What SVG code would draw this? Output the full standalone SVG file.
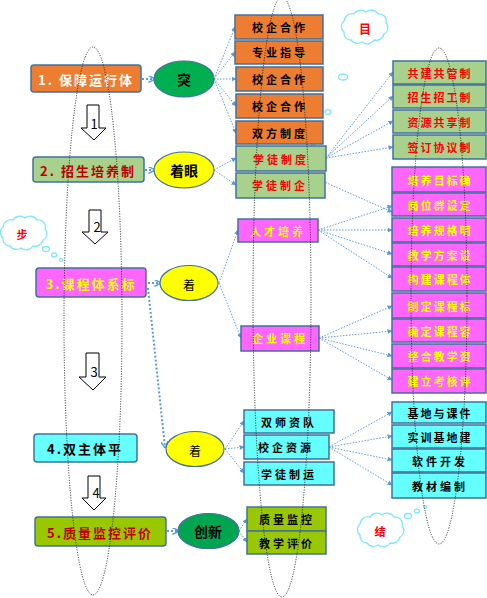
<svg xmlns="http://www.w3.org/2000/svg" width="487" height="598" viewBox="0 0 487 598">
<defs>
<marker id="ah" viewBox="0 0 10 10" refX="9" refY="5" markerWidth="5" markerHeight="5" orient="auto" markerUnits="userSpaceOnUse">
<path d="M0,0 L10,5 L0,10 z" fill="#5B9BD5"/>
</marker>
<marker id="ah2" viewBox="0 0 10 10" refX="8" refY="5" markerWidth="7" markerHeight="7" orient="auto" markerUnits="userSpaceOnUse">
<path d="M0,0 L10,5 L0,10" fill="none" stroke="#5B9BD5" stroke-width="2"/>
</marker>
<path id="cloudshape" d="M344,32 a7,7 0 0,1 0,-11 a8,8 0 0,1 10,-7 a8,8 0 0,1 12,-2 a8,8 0 0,1 12,2 a7,7 0 0,1 8,9 a7,7 0 0,1 -2,11 a8,8 0 0,1 -10,6 a8,8 0 0,1 -12,2 a8,8 0 0,1 -11,-2 a7,7 0 0,1 -7,-8 z"/>
</defs>
<style>
text{font-family:"Noto Sans CJK SC","Noto Sans",sans-serif;text-anchor:middle;dominant-baseline:central}
.main{stroke:#41719C;stroke-width:1.5}
.bx{stroke:#41719C;stroke-width:1.5}
.t1{font-size:13px;font-weight:bold;letter-spacing:2px}
.t2{font-size:11px;font-weight:bold;letter-spacing:3px}
.t5{font-size:11px;font-weight:bold;letter-spacing:2px}
.el{stroke:#41719C;stroke-width:1.2}
.con{fill:none;stroke:#5B9BD5;stroke-width:1;stroke-dasharray:1.5 1.5;marker-end:url(#ah)}
.thick{fill:none;stroke:#5B9BD5;stroke-width:2;stroke-dasharray:2 2;marker-end:url(#ah2)}
.dot{fill:none;stroke:#222;stroke-width:1;stroke-dasharray:1 1.5}
.cloud{fill:#fff;stroke:#7FE6FF;stroke-width:1.3}
.barrow{fill:#fff;stroke:#000;stroke-width:1}
.orange{fill:#ED7D31}.lg{fill:#A9D18E}.mg{fill:#FF66FF}.cy{fill:#66FFFF}.ol{fill:#99C800}
</style>

<!-- clouds -->
<g id="cloud-mu">
<use href="#cloudshape" class="cloud"/>
<ellipse class="cloud" cx="343" cy="77" rx="4.5" ry="3"/>
<ellipse class="cloud" cx="328" cy="112" rx="3" ry="2.3"/>
<ellipse class="cloud" cx="313" cy="145" rx="1.5" ry="1.3"/>
<text x="365" y="28" font-size="12" fill="#FF0000" font-weight="bold">目</text>
</g>
<g id="cloud-bu">
<use href="#cloudshape" class="cloud" transform="translate(-341,206)"/>
<ellipse class="cloud" cx="46" cy="249" rx="3.5" ry="2.5"/>
<ellipse class="cloud" cx="54" cy="255" rx="2.5" ry="2"/>
<ellipse class="cloud" cx="61" cy="260" rx="1.5" ry="1.3"/>
<text x="22" y="234" font-size="11" fill="#FF0000" font-weight="bold">步</text>
</g>
<g id="cloud-jie">
<use href="#cloudshape" class="cloud" transform="translate(16,503)"/>
<ellipse class="cloud" cx="408" cy="516" rx="3.5" ry="2.5"/>
<ellipse class="cloud" cx="417" cy="511" rx="2.5" ry="2"/>
<ellipse class="cloud" cx="425" cy="507" rx="1.5" ry="1.3"/>
<text x="380" y="531" font-size="11" fill="#FF0000" font-weight="bold">结</text>
</g>

<!-- connectors -->
<g id="connectors">
<path class="thick" d="M142,79 L154,79"/>
<path class="thick" d="M145,170 L154,170"/>
<path class="thick" d="M148,283 L160,283"/>
<path class="thick" d="M167,531 L178,531"/>
<path class="thick" d="M148,288 L165,447"/>
<path class="con" d="M214,79 L235,27"/>
<path class="con" d="M214,79 L235,52"/>
<path class="con" d="M214,79 L236,79"/>
<path class="con" d="M214,79 L236,106"/>
<path class="con" d="M214,79 L236,133"/>
<path class="con" d="M214,170 L236,158"/>
<path class="con" d="M214,170 L236,185"/>
<path class="con" d="M326,158 L393,72"/>
<path class="con" d="M326,158 L393,96"/>
<path class="con" d="M326,158 L393,121"/>
<path class="con" d="M326,158 L393,147"/>
<path class="con" d="M320,180 L392,212"/>
<path class="con" d="M219,283 L238,230"/>
<path class="con" d="M219,283 L241,338"/>
<path class="con" d="M318,230 L392,206"/>
<path class="con" d="M318,230 L392,230"/>
<path class="con" d="M318,230 L392,254"/>
<path class="con" d="M318,230 L392,278"/>
<path class="con" d="M319,338 L392,306"/>
<path class="con" d="M319,338 L392,331"/>
<path class="con" d="M319,338 L392,356"/>
<path class="con" d="M319,338 L392,380"/>
<path class="con" d="M225,449 L244,421"/>
<path class="con" d="M225,449 L244,447"/>
<path class="con" d="M225,449 L244,473"/>
<path class="con" d="M329,447 L392,412"/>
<path class="con" d="M329,447 L392,436"/>
<path class="con" d="M329,447 L392,460"/>
<path class="con" d="M329,447 L392,485"/>
<path class="con" d="M239,531 L247,519"/>
<path class="con" d="M239,531 L247,542"/>
</g>

<!-- left main boxes -->
<g id="step1"><rect class="main orange" x="31" y="65" width="110" height="27" rx="3"/><text class="t1" x="86" y="79" fill="#fff">1. 保障运行体</text></g>
<g id="step2"><rect class="main lg" x="33" y="157" width="111" height="25" rx="3"/><text class="t1" x="88" y="170" fill="#C00000">2. 招生培养制</text></g>
<g id="step3"><rect class="main mg" x="36" y="268" width="110" height="29" rx="3"/><text class="t1" x="91" y="283" fill="#FFFF00">3.课程体系标</text></g>
<g id="step4"><rect class="main cy" x="34" y="434" width="103" height="28" rx="3"/><text class="t1" x="85" y="448" fill="#000">4.双主体平</text></g>
<g id="step5"><rect class="main ol" x="35" y="517" width="131" height="29" rx="3"/><text class="t1" x="100" y="532" fill="#C00000">5.质量监控评价</text></g>

<!-- block arrows -->
<g id="arrow1"><path class="barrow" d="M87,105 H99 V128 H106 L94,140 L81,128 H87 Z"/><text x="94" y="123" font-size="13" font-family="Liberation Sans">1</text></g>
<g id="arrow2"><path class="barrow" d="M89,210 H101 V232 H108 L95,244 L82,232 H89 Z"/><text x="97" y="226" font-size="13" font-family="Liberation Sans">2</text></g>
<g id="arrow3"><path class="barrow" d="M86,353 H99 V377 H106 L93,390 L79,377 H86 Z"/><text x="94" y="371" font-size="13" font-family="Liberation Sans">3</text></g>
<g id="arrow4"><path class="barrow" d="M88,476 H100 V498 H106 L94,510 L82,498 H88 Z"/><text x="96" y="492" font-size="13" font-family="Liberation Sans">4</text></g>

<!-- ellipses -->
<g id="e-tu"><ellipse class="el" cx="184" cy="79" rx="30" ry="18" fill="#00B050"/><text x="184" y="79" font-size="14" font-weight="bold">突</text></g>
<g id="e-zhuoyan"><ellipse class="el" cx="184" cy="170" rx="30" ry="18" fill="#FFFF00"/><text x="184" y="170" font-size="14" font-weight="bold">着眼</text></g>
<g id="e-zhuo3"><ellipse class="el" cx="189" cy="283" rx="29" ry="17.5" fill="#FFFF00"/><text x="189" y="284" font-size="12">着</text></g>
<g id="e-zhuo4"><ellipse class="el" cx="195" cy="449" rx="29" ry="17.5" fill="#FFFF00"/><text x="195" y="450" font-size="12">着</text></g>
<g id="e-chuangxin"><ellipse class="el" cx="208.5" cy="531" rx="30.5" ry="17.5" fill="#00A550"/><text x="208" y="531" font-size="14" font-weight="bold">创新</text></g>

<!-- orange boxes -->
<g id="o1"><rect class="bx orange" x="235" y="15" width="88" height="24"/><text class="t2" x="280" y="27">校企合作</text></g>
<g id="o2"><rect class="bx orange" x="235" y="41" width="88" height="23"/><text class="t2" x="280" y="52">专业指导</text></g>
<g id="o3"><rect class="bx orange" x="236" y="67" width="87" height="24"/><text class="t2" x="280" y="79">校企合作</text></g>
<g id="o4"><rect class="bx orange" x="236" y="94" width="87" height="24"/><text class="t2" x="280" y="106">校企合作</text></g>
<g id="o5"><rect class="bx orange" x="236" y="121" width="87" height="23"/><text class="t2" x="280" y="133">双方制度</text></g>
<g id="g1"><rect class="bx lg" x="236" y="146" width="90" height="25"/><text class="t2" x="281" y="159" fill="#FF0000">学徒制度</text></g>
<g id="g2"><rect class="bx lg" x="236" y="173" width="89" height="25"/><text class="t2" x="280" y="185" fill="#FF0000">学徒制企</text></g>

<!-- right green -->
<g id="rg1"><rect class="bx lg" x="393" y="61" width="93" height="23"/><text class="t5" x="440" y="73" fill="#FF0000">共建共管制</text></g>
<g id="rg2"><rect class="bx lg" x="393" y="85" width="93" height="23"/><text class="t5" x="440" y="97" fill="#FF0000">招生招工制</text></g>
<g id="rg3"><rect class="bx lg" x="393" y="110" width="93" height="23"/><text class="t5" x="440" y="122" fill="#FF0000">资源共享制</text></g>
<g id="rg4"><rect class="bx lg" x="393" y="135" width="93" height="24"/><text class="t5" x="440" y="147" fill="#FF0000">签订协议制</text></g>

<!-- middle magenta -->
<g id="m1"><rect class="bx mg" x="238" y="219" width="80" height="23"/><text class="t2" x="278" y="231" fill="#FFFF00">人才培养</text></g>
<g id="m2"><rect class="bx mg" x="241" y="326" width="78" height="25"/><text class="t2" x="280" y="338" fill="#FFFF00">企业课程</text></g>

<!-- right magenta -->
<g id="rm1"><rect class="bx mg" x="392" y="167" width="94" height="25"/><text class="t5" x="440" y="180" fill="#FFFF00">培养目标确</text></g>
<g id="rm2"><rect class="bx mg" x="392" y="193" width="94" height="23"/><text class="t5" x="440" y="205" fill="#FFFF00">岗位群设定</text></g>
<g id="rm3"><rect class="bx mg" x="392" y="218" width="94" height="24"/><text class="t5" x="440" y="230" fill="#FFFF00">培养规格明</text></g>
<g id="rm4"><rect class="bx mg" x="392" y="243" width="94" height="23"/><text class="t5" x="440" y="255" fill="#FFFF00">教学方案设</text></g>
<g id="rm5"><rect class="bx mg" x="392" y="267" width="94" height="24"/><text class="t5" x="440" y="279" fill="#FFFF00">构建课程体</text></g>
<g id="rm6"><rect class="bx mg" x="392" y="293" width="94" height="25"/><text class="t5" x="440" y="306" fill="#FFFF00">制定课程标</text></g>
<g id="rm7"><rect class="bx mg" x="392" y="319" width="94" height="23"/><text class="t5" x="440" y="331" fill="#FFFF00">确定课程容</text></g>
<g id="rm8"><rect class="bx mg" x="392" y="344" width="94" height="24"/><text class="t5" x="440" y="356" fill="#FFFF00">整合教学资</text></g>
<g id="rm9"><rect class="bx mg" x="392" y="369" width="94" height="24"/><text class="t5" x="440" y="381" fill="#FFFF00">建立考核评</text></g>

<!-- middle cyan -->
<g id="c1"><rect class="bx cy" x="244" y="410" width="90" height="23"/><text class="t2" x="289" y="422">双师资队</text></g>
<g id="c2"><rect class="bx cy" x="244" y="435" width="85" height="24"/><text class="t2" x="286" y="447">校企资源</text></g>
<g id="c3"><rect class="bx cy" x="244" y="462" width="90" height="23"/><text class="t2" x="289" y="474">学徒制运</text></g>

<!-- right cyan -->
<g id="rc1"><rect class="bx cy" x="392" y="402" width="94" height="21"/><text class="t5" x="440" y="413">基地与课件</text></g>
<g id="rc2"><rect class="bx cy" x="392" y="425" width="94" height="23"/><text class="t5" x="440" y="437">实训基地建</text></g>
<g id="rc3"><rect class="bx cy" x="392" y="449" width="94" height="23"/><text class="t2" x="440" y="461">软件开发</text></g>
<g id="rc4"><rect class="bx cy" x="392" y="473" width="94" height="25"/><text class="t2" x="440" y="486">教材编制</text></g>

<!-- olive -->
<g id="q1"><rect class="bx ol" x="247" y="507" width="79" height="24"/><text class="t2" x="287" y="519">质量监控</text></g>
<g id="q2"><rect class="bx ol" x="247" y="531" width="79" height="23"/><text class="t2" x="287" y="543">教学评价</text></g>

<!-- dotted tall ellipses -->
<g id="dotted-ellipses">
<ellipse class="dot" cx="93" cy="321" rx="29" ry="274"/>
<ellipse class="dot" cx="282" cy="297" rx="29" ry="300"/>
<ellipse class="dot" cx="439" cy="296" rx="28" ry="248"/>
</g>
</svg>
